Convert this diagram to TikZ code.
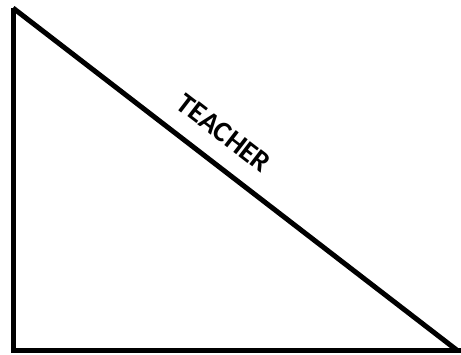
\documentclass[tikz,border=0pt]{standalone}
\usepackage{fontspec}
\setmainfont{Carlito}
\begin{document}
\begin{tikzpicture}[x=1pt,y=-1pt,
  edge/.style={line width=5pt, line cap=butt, line join=miter},
  lbl/.style={font=\bfseries\fontsize{29}{31}\selectfont, inner sep=0pt}]
\useasboundingbox (0,0) rectangle (461,355);
\coordinate (A) at (13,8);
\coordinate (B) at (13,351);
\coordinate (C) at (461,351);
\coordinate (D) at (458,351);
\draw[edge] (A) -- (B) -- (C);
\draw[edge] (A) -- (D);
\node[lbl, rotate=-37.6] (t) at (224,133) {TEACHER};
\end{tikzpicture}
\end{document}
